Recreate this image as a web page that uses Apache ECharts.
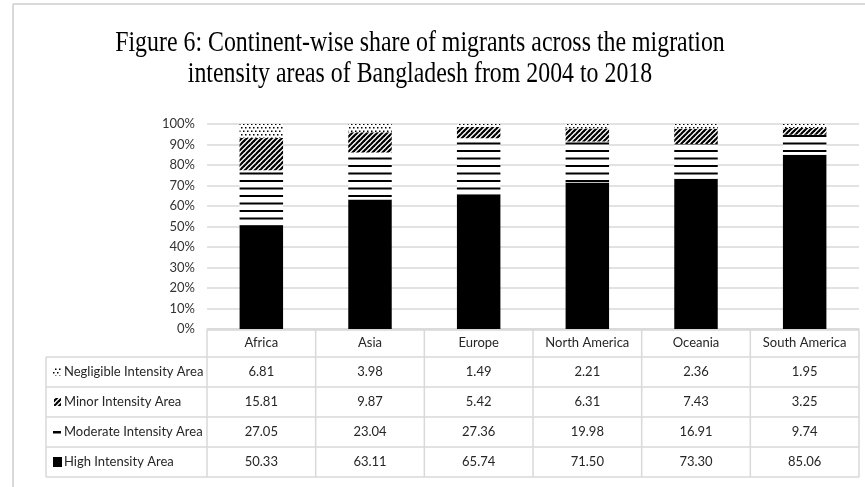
<!DOCTYPE html>
<html><head><meta charset="utf-8">
<script src="https://cdn.jsdelivr.net/npm/echarts@6/dist/echarts.min.js"></script>
<style>html,body{margin:0;padding:0;background:#fff}#c{width:865px;height:487px}</style>
</head><body><div id="c"></div>
<script>
// ---- data ----
const categories = ['Africa', 'Asia', 'Europe', 'North America', 'Oceania', 'South America'];
const seriesNames = ['Negligible Intensity Area', 'Minor Intensity Area', 'Moderate Intensity Area', 'High Intensity Area'];
const negligible = [6.81, 3.98, 1.49, 2.21, 2.36, 1.95];
const minor = [15.81, 9.87, 5.42, 6.31, 7.43, 3.25];
const moderate = [27.05, 23.04, 27.36, 19.98, 16.91, 9.74];
const high = [50.33, 63.11, 65.74, 71.50, 73.30, 85.06];
const yTickLabels = ['0%', '10%', '20%', '30%', '40%', '50%', '60%', '70%', '80%', '90%', '100%'];
const titleLines = ['Figure 6: Continent-wise share of migrants across the migration',
                    'intensity areas of Bangladesh from 2004 to 2018'];

// ---- patterns ----
function mk(w, h, draw) {
  const c = document.createElement('canvas'); c.width = w; c.height = h;
  const g = c.getContext('2d'); g.fillStyle = '#fff'; g.fillRect(0, 0, w, h); draw(g); return c;
}
const pDots = mk(8, 7, g => {
  g.fillStyle = '#000';
  g.fillRect(1, 1, 1.5, 1.5); g.fillRect(5, 1, 1.5, 1.5);
  g.fillRect(3, 4.5, 1.5, 1.5); g.fillRect(7, 4.5, 1, 1.5); g.fillRect(0, 4.5, 0.5, 1.5);
});
const pHatch = mk(5, 5, g => {
  g.strokeStyle = '#000'; g.lineWidth = 2.2;
  for (let k = -1; k <= 1; k++) { g.beginPath(); g.moveTo(k * 5 - 1, 6); g.lineTo(k * 5 + 6, -1); g.stroke(); }
});
const pLines = mk(4, 15, g => { g.fillStyle = '#000'; g.fillRect(0, 0, 4, 2); g.fillRect(0, 7.5, 4, 2); });
const pat = c => ({ image: c, repeat: 'repeat' });

const FONT = 'Lato';
const TXT = '#262626';
const LINE = '#d9d9d9';

const chart = echarts.init(document.getElementById('c'), null, { renderer: 'canvas' });

const stackDefs = [
  { name: seriesNames[3], data: high, color: '#000' },
  { name: seriesNames[2], data: moderate, color: pat(pLines) },
  { name: seriesNames[1], data: minor, color: pat(pHatch) },
  { name: seriesNames[0], data: negligible, color: pat(pDots) }
];

chart.setOption({
  animation: false,
  backgroundColor: '#fff',
  grid: { left: 207, right: 6, top: 124, bottom: 158 },
  xAxis: {
    type: 'category', data: categories,
    axisLine: { show: true, lineStyle: { color: LINE, width: 1.5 } },
    axisTick: { show: false },
    axisLabel: { fontFamily: FONT, fontSize: 13, color: TXT, margin: 14, verticalAlign: 'middle', interval: 0 }
  },
  yAxis: {
    type: 'value', min: 0, max: 100, interval: 10,
    axisLine: { show: false }, axisTick: { show: false },
    splitLine: { lineStyle: { color: LINE, width: 1.5 } },
    axisLabel: { fontFamily: FONT, fontSize: 13, color: '#333', margin: 12,
      formatter: v => yTickLabels[Math.round(v / 10)] }
  },
  series: stackDefs.map(s => ({
    type: 'bar', name: s.name, stack: 'all', data: s.data, barWidth: '40%',
    itemStyle: { color: s.color }
  }))
});

// ---- title + table drawn as graphics positioned from the axis ----
const mc = document.createElement('canvas').getContext('2d');
mc.font = '29px "Liberation Serif"';
const w1 = mc.measureText(titleLines[0]).width, w2 = mc.measureText(titleLines[1]).width;
const sx = (610 + 464) / (w1 + w2);

const n = categories.length;
const c0 = chart.convertToPixel({ xAxisIndex: 0 }, 0);
const c1 = chart.convertToPixel({ xAxisIndex: 0 }, 1);
const band = c1 - c0;
const xLeft = c0 - band / 2;
const xRight = xLeft + band * n;
const yAxisPx = chart.convertToPixel({ yAxisIndex: 0 }, 0);

const headTop = yAxisPx + 1, rowTop = 357, rowH = 30;
const labelLeft = 46;
const rows = [negligible, minor, moderate, high];

const g = [];
g.push({ type: 'line', shape: { x1: 13, y1: 4, x2: 865, y2: 4 }, style: { stroke: LINE, lineWidth: 2 } });
g.push({ type: 'line', shape: { x1: 13, y1: 4, x2: 13, y2: 487 }, style: { stroke: LINE, lineWidth: 2 } });
titleLines.forEach((t, i) => {
  g.push({ type: 'text', x: 420, y: 43 + i * 31, scaleX: sx,
    style: { text: t, font: '29px "Liberation Serif"', fill: '#000', align: 'center', verticalAlign: 'middle',
             textAlign: 'center', textVerticalAlign: 'middle' } });
});
// table lines
g.push({ type: 'line', shape: { x1: xLeft, y1: headTop, x2: xRight, y2: headTop }, style: { stroke: LINE, lineWidth: 1.5 } });
for (let r = 0; r <= rows.length; r++) {
  const y = rowTop + r * rowH;
  g.push({ type: 'line', shape: { x1: labelLeft, y1: y, x2: xRight, y2: y }, style: { stroke: LINE, lineWidth: 1.5 } });
}
const tableBottom = rowTop + rows.length * rowH;
for (let i = 0; i <= n; i++) {
  const x = xLeft + i * band;
  g.push({ type: 'line', shape: { x1: x, y1: headTop, x2: x, y2: tableBottom }, style: { stroke: LINE, lineWidth: 1.5 } });
}
g.push({ type: 'line', shape: { x1: labelLeft, y1: rowTop, x2: labelLeft, y2: tableBottom }, style: { stroke: LINE, lineWidth: 1.5 } });
// row labels + icons + values
rows.forEach((vals, r) => {
  const cy = rowTop + r * rowH + rowH / 2;
  if (r === 0) g.push({ type: 'rect', shape: { x: 53, y: cy - 4, width: 8, height: 8 }, style: { fill: pat(pDots) } });
  if (r === 1) g.push({ type: 'rect', shape: { x: 54, y: cy - 4, width: 7, height: 8 }, style: { fill: pat(pHatch) } });
  if (r === 2) g.push({ type: 'rect', shape: { x: 53, y: cy - 1, width: 8, height: 2.5 }, style: { fill: '#000' } });
  if (r === 3) g.push({ type: 'rect', shape: { x: 53, y: cy - 5, width: 9, height: 10 }, style: { fill: '#000' } });
  g.push({ type: 'text', x: 64, y: cy,
    style: { text: seriesNames[r], fontFamily: FONT, fontSize: 13, fill: TXT, align: 'left', verticalAlign: 'middle',
             textAlign: 'left', textVerticalAlign: 'middle' } });
  vals.forEach((v, i) => {
    const cx = chart.convertToPixel({ xAxisIndex: 0 }, i);
    g.push({ type: 'text', x: cx, y: cy,
      style: { text: v.toFixed(2), fontFamily: FONT, fontSize: 13, fill: TXT, align: 'center', verticalAlign: 'middle',
               textAlign: 'center', textVerticalAlign: 'middle' } });
  });
});
chart.setOption({ graphic: { elements: g } });
</script>
</body></html>
